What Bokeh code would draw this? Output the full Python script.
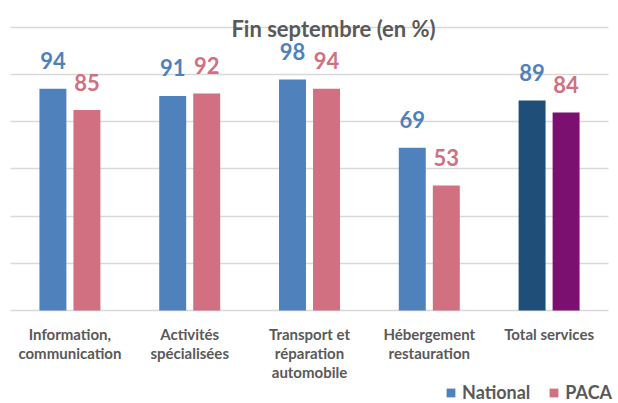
from bokeh.plotting import figure
from bokeh.models import ColumnDataSource, FactorRange, Range1d, FixedTicker, Label, Legend, LegendItem
from bokeh.transform import dodge
from bokeh.core.properties import value
from bokeh.embed import file_html
from bokeh.resources import INLINE

categories = ["Information,\ncommunication", "Activités\nspécialisées",
              "Transport et\nréparation\nautomobile", "Hébergement\nrestauration", "Total services"]
national = [94, 91, 98, 69, 89]
paca = [85, 92, 94, 53, 84]
title_text = "Fin septembre (en %)"
grid_ticks = [0, 20, 40, 60, 80, 100, 120]

BLUE = "#4F81BD"
PINK = "#D07080"
NAVY = "#1F4E79"
PURPLE = "#7B1071"
GREY = "#595959"
FONT = "Lato"

nat_colors = [BLUE] * 4 + [NAVY]
pac_colors = [PINK] * 4 + [PURPLE]

src_n = ColumnDataSource(dict(cat=categories, val=national, color=nat_colors,
                              lab=[str(v) for v in national]))
src_p = ColumnDataSource(dict(cat=categories, val=paca, color=pac_colors,
                              lab=[str(v) for v in paca]))
src_c = ColumnDataSource(dict(cat=categories, y=[0] * len(categories)))

W, H = 618, 403
p = figure(width=W, height=H, output_backend="svg", toolbar_location=None,
           x_range=FactorRange(*categories, range_padding=0.0795, range_padding_units="absolute"),
           y_range=Range1d(-39.44, 131.45),
           x_axis_location=None, y_axis_location=None,
           min_border=0, min_border_left=0, min_border_right=0,
           min_border_top=0, min_border_bottom=0)
p.outline_line_color = None
p.xgrid.visible = False
p.ygrid.ticker = FixedTicker(ticks=grid_ticks)
p.ygrid.grid_line_color = "#D9D9D9"
p.ygrid.grid_line_width = 1.5
p.ygrid.cross_bounds = (0, len(categories))

off = 0.142
bw = 0.225
rn = p.vbar(x=dodge("cat", -off, range=p.x_range), top="val", width=bw, bottom=0,
            source=src_n, fill_color="color", line_color=None)
rp = p.vbar(x=dodge("cat", off, range=p.x_range), top="val", width=bw, bottom=0,
            source=src_p, fill_color="color", line_color=None)

p.text(x=dodge("cat", -off, range=p.x_range), y="val", text="lab", source=src_n,
       text_color=BLUE, text_font=value(FONT), text_font_style="bold",
       text_font_size="22px", text_align="center", text_baseline="alphabetic", y_offset=-28)
p.text(x=dodge("cat", off, range=p.x_range), y="val", text="lab", source=src_p,
       text_color=PINK, text_font=value(FONT), text_font_style="bold",
       text_font_size="22px", text_align="center", text_baseline="alphabetic", y_offset=-28)

p.text(x="cat", y="y", text="cat", source=src_c, text_color=GREY, text_font=value(FONT),
       text_font_style="bold", text_font_size="15px", text_align="center",
       text_baseline="top", text_line_height=1.04, y_offset=15)

p.add_layout(Label(x=333, y=H - 28, x_units="screen", y_units="screen", text=title_text,
                   text_font=FONT, text_font_style="bold", text_font_size="22px",
                   text_color=GREY, text_align="center", text_baseline="alphabetic"))

legend = Legend(items=[LegendItem(label="National", renderers=[rn], index=0),
                       LegendItem(label="PACA", renderers=[rp], index=0)],
                orientation="horizontal", location=(445, 0),
                glyph_width=11, glyph_height=11, label_standoff=6, spacing=18,
                padding=0, margin=0, border_line_color=None, background_fill_alpha=0,
                label_text_font=FONT, label_text_font_style="bold",
                label_text_font_size="18px", label_text_color=GREY, label_height=20)
p.add_layout(legend)

open("out.html", "w").write(file_html(p, INLINE))
